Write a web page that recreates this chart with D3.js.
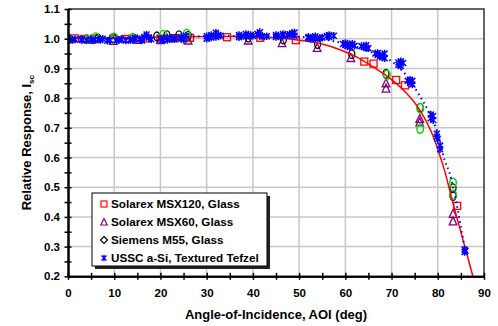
<!DOCTYPE html>
<html>
<head>
<meta charset="utf-8">
<script src="https://cdnjs.cloudflare.com/ajax/libs/d3/7.8.5/d3.min.js"></script>
<style>
  body { margin: 0; background: #fff; }
  svg { display: block; font-family: Arial, "Liberation Sans", sans-serif; font-weight: bold; }
</style>
</head>
<body>
<div id="chart"></div>
<script>
// tick labels
const xTicks = [0, 10, 20, 30, 40, 50, 60, 70, 80, 90];
const yTicks = [0.2, 0.3, 0.4, 0.5, 0.6, 0.7, 0.8, 0.9, 1.0, 1.1];
const seriesNames = ['Solarex MSX120, Glass', 'Solarex MSX60, Glass', 'Siemens M55, Glass', 'USSC a-Si, Textured Tefzel'];

// [AOI deg, relative Isc]
const msx120 = [[0,1.000],[1.5,1.001],[3.5,0.999],[6,1.000],[9.8,1.000],[12.5,0.999],[14,1.000],[17.3,1.001],[20,1.000],[23,1.002],[26.4,1.003],[34.4,1.005],[41.6,1.003],[49.3,0.995],[64.1,0.923],[66.1,0.916],[71,0.861],[72.9,0.843],[84.2,0.437]];
const msx60 = [[0,0.998],[5,0.997],[9.8,0.993],[15,0.996],[20,0.995],[26,0.994],[39,0.994],[46.3,0.985],[53.9,0.969],[61.2,0.935],[68.8,0.85],[68.8,0.832],[76.1,0.73],[76.1,0.718],[83.3,0.41],[83.3,0.385]];
const m55 = [[0,1.002],[6.5,1.001],[9.8,1.003],[19.2,1.008],[21.4,1.012],[24,1.012],[26,1.01],[39,1.004],[46.6,0.997],[54,0.982],[61.4,0.948],[68.8,0.882],[76.2,0.768],[83.3,0.497],[83.3,0.47]];
const m55b = [[0,1.003],[4,0.999],[6,1.004],[10,1.003],[14,1.002],[20.6,1.012],[25.7,1.016],[69,0.878],[76.2,0.766],[76.2,0.697],[83.3,0.515],[83.3,0.475]];
const ussc = [[0,0.998],[0,1.002],[1,0.996],[1.5,0.998],[3,0.996],[3,0.999],[4,0.995],[5,0.997],[5.5,0.994],[6.5,0.998],[7,0.996],[7.5,1.0],[8.5,0.993],[9,0.995],[10.5,0.994],[11,0.996],[11.5,0.999],[12.5,0.994],[13.5,0.996],[14,0.997],[14.5,1.002],[15.5,0.997],[16,1.0],[16.5,1.006],[16,0.994],[17,1.014],[17.5,1.003],[18,0.998],[20,1.0],[20.5,0.995],[21.5,0.996],[21.5,1.004],[22.5,1.0],[23,0.998],[23,1.003],[24.5,1.006],[24.5,1.0],[25.5,1.01],[25,0.997],[30,1.0],[30,1.008],[30.5,1.004],[31,1.012],[31,1.004],[32,1.02],[32,1.006],[32.5,1.012],[33,1.01],[37,1.005],[37,1.012],[37.5,1.008],[38.5,1.016],[38.5,1.008],[39.5,1.012],[40,1.01],[41,1.016],[41.5,1.022],[41.5,1.012],[42,1.007],[43,1.008],[45,1.006],[45,1.012],[45.5,1.009],[46.5,1.01],[46.5,1.016],[47.5,1.012],[48,1.014],[48.5,1.018],[49,1.021],[49,1.01],[52,1.002],[52,1.006],[52.5,0.999],[53,1.004],[53.5,1.0],[53.5,1.008],[54.5,1.002],[55,1.004],[56,1.009],[56.5,1.012],[56.5,1.006],[57.5,1.01],[59.5,0.982],[60,0.978],[60,0.985],[60.5,0.975],[61,0.972],[61,0.98],[61.5,0.983],[62,0.976],[63.5,0.975],[64,0.972],[64.5,0.978],[64.5,0.969],[65,0.968],[66.5,0.95],[67,0.945],[67,0.952],[67.5,0.94],[68,0.938],[68,0.944],[68.5,0.95],[68.5,0.934],[71.5,0.92],[71.5,0.912],[72,0.924],[72,0.908],[72.5,0.918],[73.5,0.858],[74,0.862],[74,0.852],[74.5,0.846],[74.5,0.858],[78.5,0.745],[78.5,0.732],[79,0.74],[79,0.726],[79.8,0.68],[79.8,0.67],[80,0.662],[80.5,0.64],[80.5,0.628],[85.8,0.29],[85.8,0.282],[86,0.286]];
// fitted curves
const fitGlass = [[0,1.0],[10,1.002],[20,1.005],[30,1.007],[38,1.007],[45,1.003],[50,0.995],[55,0.982],[59,0.962],[62.5,0.938],[66,0.905],[70,0.862],[73,0.82],[76.2,0.758],[78.5,0.69],[80.6,0.60],[81.3,0.565],[83.4,0.44],[85.5,0.32],[87.6,0.2]];
const fitASi = [[0,1.0],[20,1.005],[35,1.009],[44,1.009],[52,1.005],[58,0.99],[62,0.975],[66,0.952],[70,0.924],[73,0.88],[76,0.81],[78,0.755],[80,0.68],[81.5,0.59],[82.5,0.55],[84,0.45],[85.3,0.34],[86,0.28]];

const W = 498, H = 326;
const x = d3.scaleLinear().domain([0, 90]).range([68, 484]);
const y = d3.scaleLinear().domain([0.2, 1.1]).range([276.3, 9]);

const svg = d3.select('#chart').append('svg').attr('width', W).attr('height', H);

// grid
svg.append('g').selectAll('line').data(xTicks.slice(1, -1)).join('line')
  .attr('x1', d => x(d)).attr('x2', d => x(d)).attr('y1', y(0.2)).attr('y2', y(1.1))
  .attr('stroke', '#c8c8c8').attr('stroke-width', 1.5);
svg.append('g').selectAll('line').data(yTicks.slice(1, -1)).join('line')
  .attr('x1', x(0)).attr('x2', x(90)).attr('y1', d => y(d)).attr('y2', d => y(d))
  .attr('stroke', '#c8c8c8').attr('stroke-width', 1.5);

// frame (top / right)
svg.append('path')
  .attr('d', `M${x(0)},${y(1.1)}H${x(90)}V${y(0.2)}`)
  .attr('fill', 'none').attr('stroke', '#333').attr('stroke-width', 1.5);

svg.append('clipPath').attr('id', 'clip').append('rect')
  .attr('x', x(0)).attr('y', y(1.1)).attr('width', x(90) - x(0)).attr('height', y(0.2) - y(1.1));
const plot = svg.append('g').attr('clip-path', 'url(#clip)');

// markers
plot.append('g').selectAll('rect').data(msx120).join('rect')
  .attr('x', d => x(d[0]) - 3.5).attr('y', d => y(d[1]) - 3.5)
  .attr('width', 7).attr('height', 7)
  .attr('fill', 'none').attr('stroke', '#ff0000').attr('stroke-width', 1.3);

plot.append('g').selectAll('path').data(msx60).join('path')
  .attr('transform', d => `translate(${x(d[0])},${y(d[1])})`)
  .attr('d', 'M0,-4.5L3.8,3.5H-3.8Z')
  .attr('fill', 'none').attr('stroke', '#800080').attr('stroke-width', 1.3);

plot.append('g').selectAll('ellipse').data(m55).join('ellipse')
  .attr('cx', d => x(d[0])).attr('cy', d => y(d[1]))
  .attr('rx', 3).attr('ry', 4.3)
  .attr('fill', 'none').attr('stroke', '#000').attr('stroke-width', 1.3);

plot.append('g').selectAll('ellipse').data(m55b).join('ellipse')
  .attr('cx', d => x(d[0])).attr('cy', d => y(d[1]))
  .attr('rx', 3.3).attr('ry', 4.6)
  .attr('fill', 'none').attr('stroke', '#00e000').attr('stroke-width', 1.5);

const line = d3.line().x(d => x(d[0])).y(d => y(d[1])).curve(d3.curveMonotoneX);
plot.append('path').datum(fitGlass).attr('d', line)
  .attr('fill', 'none').attr('stroke', '#ff0000').attr('stroke-width', 1.5);

const star = 'M-3,-3L3,3M-3,3L3,-3M0,-3.8V3.8';
plot.append('g').selectAll('path').data(ussc).join('path')
  .attr('transform', d => `translate(${x(d[0])},${y(d[1])})`)
  .attr('d', star)
  .attr('fill', 'none').attr('stroke', '#0000ff').attr('stroke-width', 1.5);

plot.append('path').datum(fitASi).attr('d', line)
  .attr('fill', 'none').attr('stroke', '#0000ff').attr('stroke-width', 2)
  .attr('stroke-dasharray', '1.5,3.5');

// axes
const xAxis = svg.append('g').attr('transform', `translate(0,${y(0.2)})`)
  .call(d3.axisBottom(x).tickValues(xTicks).tickFormat(d3.format('d')).tickSizeOuter(0));
const xMinor = svg.append('g').attr('transform', `translate(0,${y(0.2)})`)
  .call(d3.axisBottom(x).tickValues(d3.range(5, 90, 10)).tickFormat('').tickSizeOuter(0));
const yAxis = svg.append('g').attr('transform', `translate(${x(0)},0)`)
  .call(d3.axisLeft(y).tickValues(yTicks).tickFormat(d3.format('.1f')).tickSizeOuter(0));
const yMinor = svg.append('g').attr('transform', `translate(${x(0)},0)`)
  .call(d3.axisLeft(y).tickValues(d3.range(0.25, 1.1, 0.1)).tickFormat('').tickSizeOuter(0));

[xAxis, xMinor].forEach(g => {
  g.select('.domain').attr('stroke', '#000').attr('stroke-width', 2);
  g.selectAll('.tick line').attr('y1', -3.5).attr('y2', 3.5).attr('stroke', '#000').attr('stroke-width', 1.5);
  g.selectAll('.tick text').attr('y', 13).attr('font-size', '11.5px').attr('font-family', null).attr('fill', '#000');
});
[yAxis, yMinor].forEach(g => {
  g.select('.domain').attr('stroke', '#000').attr('stroke-width', 2);
  g.selectAll('.tick line').attr('x1', -3.5).attr('x2', 3.5).attr('stroke', '#000').attr('stroke-width', 1.5);
  g.selectAll('.tick text').attr('x', -8).attr('font-size', '11.5px').attr('font-family', null).attr('fill', '#000');
});

// titles
svg.append('text').attr('x', 276).attr('y', 319).attr('text-anchor', 'middle')
  .attr('font-size', '13px').text('Angle-of-Incidence, AOI (deg)');
const yt = svg.append('text').attr('transform', `translate(31,${y(0.65)}) rotate(-90)`)
  .attr('text-anchor', 'middle').attr('font-size', '13px');
yt.append('tspan').text('Relative Response, I');
yt.append('tspan').attr('font-size', '8px').attr('dy', 3).text('sc');

// legend
const lg = svg.append('g');
lg.append('rect').attr('x', 95).attr('y', 196).attr('width', 175).attr('height', 73).attr('fill', '#222');
lg.append('rect').attr('x', 92).attr('y', 193).attr('width', 175).attr('height', 73)
  .attr('fill', '#fff').attr('stroke', '#000').attr('stroke-width', 1);
const rowY = d3.scalePoint().domain(seriesNames).range([204, 258]);
const markers = [
  g => g.append('rect').attr('x', -3).attr('y', -3).attr('width', 6).attr('height', 6).attr('fill', 'none').attr('stroke', '#ff0000').attr('stroke-width', 1.2),
  g => g.append('path').attr('d', 'M0,-3.5L3.2,3H-3.2Z').attr('fill', 'none').attr('stroke', '#800080').attr('stroke-width', 1.2),
  g => g.append('path').attr('d', 'M0,-3.5L3.5,0L0,3.5L-3.5,0Z').attr('fill', 'none').attr('stroke', '#000').attr('stroke-width', 1.2),
  g => g.append('path').attr('d', 'M-2.5,-2.5L2.5,2.5M-2.5,2.5L2.5,-2.5M0,-3.2V3.2').attr('fill', 'none').attr('stroke', '#0000ff').attr('stroke-width', 1.3)
];
seriesNames.forEach((name, i) => {
  const row = lg.append('g').attr('transform', `translate(104,${rowY(name)})`);
  markers[i](row);
  row.append('text').attr('x', 7).attr('y', 4.2).attr('font-size', '11.7px').text(name);
});
</script>
</body>
</html>
